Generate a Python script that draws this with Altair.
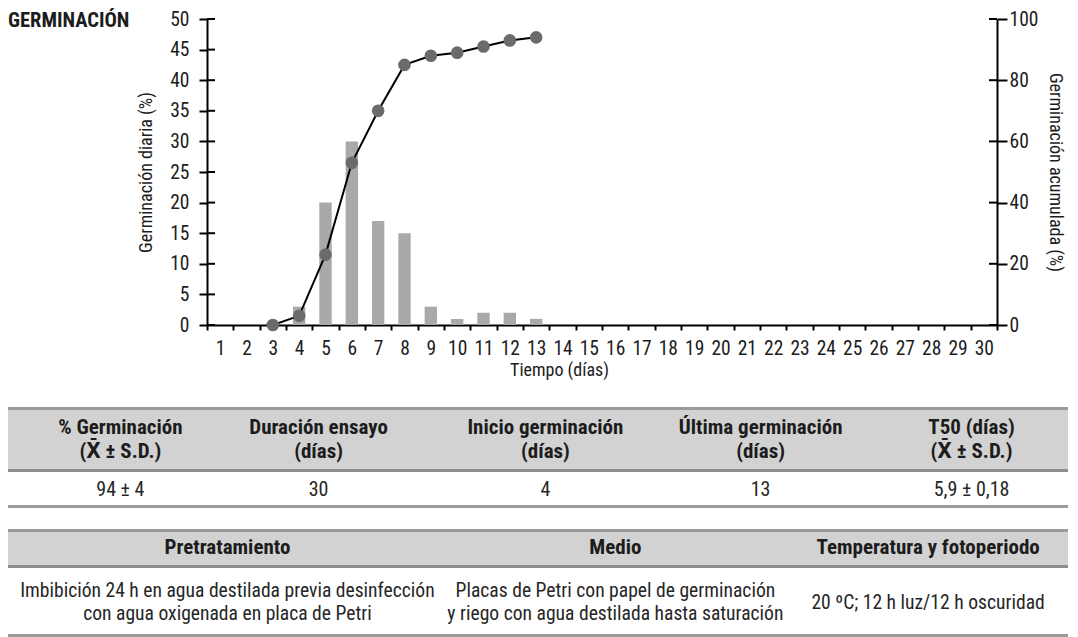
import altair as alt
import pandas as pd

# ---------------- data ----------------
days = list(range(1, 31))
daily_days = [4, 5, 6, 7, 8, 9, 10, 11, 12, 13]
daily_values = [3, 20, 30, 17, 15, 3, 1, 2, 2, 1]
cum_days = [3, 4, 5, 6, 7, 8, 9, 10, 11, 12, 13]
cum_values = [0, 3, 23, 53, 70, 85, 88, 89, 91, 93, 94]
left_ticks = [0, 5, 10, 15, 20, 25, 30, 35, 40, 45, 50]
right_ticks = [0, 20, 40, 60, 80, 100]

chart_title = "GERMINACIÓN"
x_title = "Tiempo (días)"
left_title = "Germinación diaria (%)"
right_title = "Germinación acumulada (%)"

t1_headers = [["% Germinación", "(X̄ ± S.D.)"], ["Duración ensayo", "(días)"],
              ["Inicio germinación", "(días)"], ["Última germinación", "(días)"],
              ["T50 (días)", "(X̄ ± S.D.)"]]
t1_values = [["94 ± 4"], ["30"], ["4"], ["13"], ["5,9 ± 0,18"]]

t2_headers = [["Pretratamiento"], ["Medio"], ["Temperatura y fotoperiodo"]]
t2_values = [["Imbibición 24 h en agua destilada previa desinfección",
              "con agua oxigenada en placa de Petri"],
             ["Placas de Petri con papel de germinación",
              "y riego con agua destilada hasta saturación"],
             ["20 ºC; 12 h luz/12 h oscuridad"]]

# ---------------- style / layout ----------------
FONT = "Roboto Condensed, Liberation Sans Narrow, DejaVu Sans Condensed, sans-serif"
W, H = 790, 306
LEFT = 199            # distance from page-left content edge to plot left
TOTAL = 1060          # total usable width
BAR_COLOR = "#a9a9a9"
PT_COLOR = "#6b6b6b"
TXT = "#1c1c1c"

df_daily = pd.DataFrame({"day": daily_days, "v": daily_values})
df_cum = pd.DataFrame({"day": cum_days, "c": cum_values})
df_lt = pd.DataFrame({"v": left_ticks})
df_rt = pd.DataFrame({"c": right_ticks})

x_enc = alt.X("day:O", scale=alt.Scale(domain=days, paddingInner=0, paddingOuter=0),
              axis=alt.Axis(title=x_title, labelAngle=0, tickBand="extent", tickSize=5,
                            labelPadding=9, titlePadding=4, titleX=352,
                            labelFontSize=19.5, titleFontSize=18))
y_left = alt.Y("v:Q", scale=alt.Scale(domain=[0, 50], nice=False),
               axis=alt.Axis(values=left_ticks, title=left_title, tickSize=8,
                             labelPadding=10, titlePadding=14, labelFontSize=19.5,
                             titleFontSize=18, grid=False))
y_right = alt.Y("c:Q", scale=alt.Scale(domain=[0, 100], nice=False),
                axis=alt.Axis(values=right_ticks, title=right_title, orient="right",
                              tickSize=10, labelPadding=2, titlePadding=8,
                              labelFontSize=19.5, titleFontSize=18, grid=False))

bars = alt.Chart(df_daily).mark_bar(color=BAR_COLOR, width=alt.RelativeBandSize(0.47)).encode(
    x=x_enc, y=y_left)
lticks = alt.Chart(df_lt).mark_rule(color="black", strokeWidth=2).encode(
    y=y_left, x=alt.value(0), x2=alt.value(8))
title_mark = alt.Chart(pd.DataFrame({"t": [chart_title]})).mark_text(
    align="left", baseline="alphabetic", font=FONT, fontSize=20.5, fontWeight="bold",
    color=TXT).encode(text="t:N", x=alt.value(-LEFT), y=alt.value(8))

line = alt.Chart(df_cum).mark_line(color="black", strokeWidth=2).encode(x=x_enc, y=y_right)
pts = alt.Chart(df_cum).mark_circle(color=PT_COLOR, opacity=1, size=160).encode(x=x_enc, y=y_right)
rticks = alt.Chart(df_rt).mark_rule(color="black", strokeWidth=2).encode(
    y=y_right, x=alt.value(W - 8), x2=alt.value(W))

left_layer = alt.layer(bars, lticks, title_mark)
right_layer = alt.layer(line, pts, rticks)
main = alt.layer(left_layer, right_layer).resolve_scale(y="independent").properties(
    width=W, height=H)

TW = TOTAL - LEFT


def make_table(height, centers, headers, values, hdr_center, hdr_lh, body_center, body_lh,
               bands, hfs, bfs):
    rect_rows = [{"y": a, "y2": b, "col": c} for (a, b, c) in bands]
    df_r = pd.DataFrame(rect_rows)
    txt_rows = []
    for i, lines in enumerate(headers):
        n = len(lines)
        for j, s in enumerate(lines):
            txt_rows.append({"x": centers[i], "y": hdr_center + (j - (n - 1) / 2) * hdr_lh,
                             "t": s, "kind": "h"})
    for i, lines in enumerate(values):
        n = len(lines)
        for j, s in enumerate(lines):
            txt_rows.append({"x": centers[i], "y": body_center + (j - (n - 1) / 2) * body_lh,
                             "t": s, "kind": "b"})
    df_t = pd.DataFrame(txt_rows)
    ys = alt.Scale(domain=[0, height], reverse=True, nice=False, zero=False)
    xs = alt.Scale(domain=[0, 1], range=[-LEFT, TW], nice=False, zero=False)
    rects = alt.Chart(df_r).mark_rect().encode(
        x=alt.value(-LEFT), x2=alt.value(TW),
        y=alt.Y("y:Q", scale=ys, axis=None), y2="y2:Q",
        color=alt.Color("col:N", scale=None, legend=None))
    hdr = alt.Chart(df_t).transform_filter("datum.kind == 'h'").mark_text(
        font=FONT, fontSize=hfs, fontWeight="bold", color=TXT, baseline="middle").encode(
        x=alt.X("x:Q", scale=xs, axis=None), y=alt.Y("y:Q", scale=ys, axis=None), text="t:N")
    body = alt.Chart(df_t).transform_filter("datum.kind == 'b'").mark_text(
        font=FONT, fontSize=bfs, color="#262626", baseline="middle").encode(
        x=alt.X("x:Q", scale=xs, axis=None), y=alt.Y("y:Q", scale=ys, axis=None), text="t:N")
    return alt.layer(rects, hdr, body).properties(width=TW, height=height)


LINE = "#9a9a9a"
HDR = "#d2d2d2"
SEP = "#8e8e8e"
t1 = make_table(101, [0.1060, 0.2930, 0.5070, 0.7100, 0.9090], t1_headers, t1_values,
                33, 24, 83, 23,
                [(0, 3, LINE), (3, 62, HDR), (62, 65, SEP), (98, 101, LINE)], 21, 20)
t2 = make_table(108, [0.2070, 0.5730, 0.8680], t2_headers, t2_values,
                19, 24, 73.5, 23,
                [(0, 3, LINE), (3, 36, HDR), (36, 39, SEP), (105, 108, LINE)], 21, 19.6)

tables = alt.concat(t1, t2, columns=1, spacing=21, align="none")
chart = alt.concat(main, tables, columns=1, spacing=27, align="none").properties(
    padding={"top": 1, "left": 0, "right": 0, "bottom": 0}
).configure_view(stroke=None).configure_axis(
    labelFont=FONT, titleFont=FONT, labelColor=TXT, titleColor=TXT,
    titleFontWeight="normal", domainColor="black", domainWidth=2,
    tickColor="black", tickWidth=2)

chart.save("out.html", embed_options={"renderer": "svg", "actions": False})
